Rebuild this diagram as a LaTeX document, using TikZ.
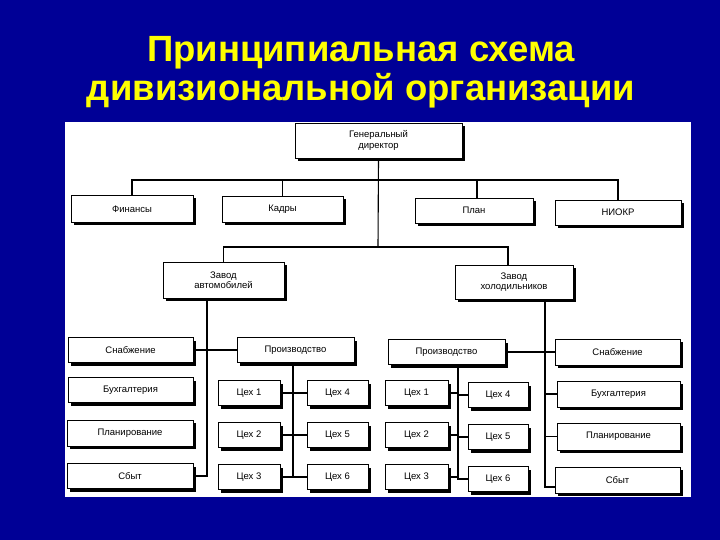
\documentclass[tikz,border=0pt]{standalone}
\usepackage{fontspec}
\setmainfont{Liberation Sans}
\usetikzlibrary{shadows}
\definecolor{slideblue}{RGB}{0,0,150}
\definecolor{titleyellow}{RGB}{255,255,0}
\tikzset{
  unit/.style={draw=black, line width=0.9pt, fill=white, inner sep=1pt,
    font=\fontsize{9.5}{10.5}\selectfont, align=center,
    drop shadow={shadow xshift=3pt, shadow yshift=-3pt, fill=black, opacity=1}},
  link/.style={draw=black, line width=1.1pt},
  titletext/.style={font=\fontsize{36.5}{42}\selectfont\bfseries, anchor=base, text=titleyellow}
}
\begin{document}
\begin{tikzpicture}[x=1pt,y=-1pt]
\useasboundingbox (0,0) rectangle (720,540);
\fill[slideblue] (0,0) rectangle (720,540);
% title
\node[titletext] (t1) at (361,62) {Принципиальная схема};
\node[titletext] (t2) at (361,101) {дивизиональной организации};
% panel
\fill[white] (65,122) rectangle (691,497);

% top level
\node[unit, minimum width=167pt, minimum height=35pt] (gd) at (378.5,140.5) {Генеральный\\директор};
\node[unit, minimum width=122pt, minimum height=27pt] (fin) at (132,209) {Финансы};
\node[unit, minimum width=121pt, minimum height=26pt] (kad) at (282.5,209) {Кадры};
\node[unit, minimum width=118pt, minimum height=25pt] (plan) at (474,210.5) {План};
\node[unit, minimum width=126pt, minimum height=25pt] (niokr) at (618,212.5) {НИОКР};

\coordinate (busA) at (378,180);
\coordinate (busB) at (378,247);
\draw[link] (fin.north) |- (busA) -| (niokr.north);
\draw[link] (kad.north) -- (kad.north |- busA);
\draw[link] ([xshift=3pt]plan.north) -- ([xshift=3pt]plan.north |- busA);
\draw[link] (gd.south) -- (busB);

% factories
\node[unit, minimum width=121pt, minimum height=36pt] (zavA) at (223.5,280) {Завод\\автомобилей};
\node[unit, minimum width=118pt, minimum height=34pt] (zavB) at (514,282) {Завод\\холодильников};
\draw[link] (zavA.north) |- (busB) -| ([xshift=-6pt]zavB.north);

% left division
\node[unit, minimum width=125pt, minimum height=25pt] (snabA) at (130.5,350) {Снабжение};
\node[unit, minimum width=117pt, minimum height=25pt] (prodA) at (295.5,350) {Производство};
\node[unit, minimum width=125pt, minimum height=25pt] (buhA) at (130.5,390) {Бухгалтерия};
\node[unit, minimum width=126pt, minimum height=26pt] (planA) at (130,433) {Планирование};
\node[unit, minimum width=126pt, minimum height=25pt] (sbytA) at (130,476) {Сбыт};
\draw[link] (snabA.east) -- (prodA.west);
\draw[link] ([xshift=-16.5pt]zavA.south) |- (sbytA.east);

\node[unit, minimum width=62pt, minimum height=25pt] (c1A) at (249,393) {Цех 1};
\node[unit, minimum width=62pt, minimum height=25pt] (c2A) at (249,435) {Цех 2};
\node[unit, minimum width=62pt, minimum height=25pt] (c3A) at (249,477) {Цех 3};
\node[unit, minimum width=61pt, minimum height=25pt] (c4A) at (337.5,393) {Цех 4};
\node[unit, minimum width=61pt, minimum height=25pt] (c5A) at (337.5,435) {Цех 5};
\node[unit, minimum width=61pt, minimum height=25pt] (c6A) at (337.5,477) {Цех 6};
\coordinate (vA) at (293,478);
\draw[link] ([xshift=-2.5pt]prodA.south) -- (vA);
\draw[link] (c1A.east) -- (c4A.west);
\draw[link] (c2A.east) -- (c5A.west);
\draw[link] (c3A.east) -- (c6A.west);

% right division
\node[unit, minimum width=117pt, minimum height=25pt] (prodB) at (446.5,352) {Производство};
\node[unit, minimum width=125pt, minimum height=26pt] (snabB) at (617.5,352) {Снабжение};
\node[unit, minimum width=123pt, minimum height=26pt] (buhB) at (618.5,394) {Бухгалтерия};
\node[unit, minimum width=123pt, minimum height=27pt] (planB) at (618.5,436.5) {Планирование};
\node[unit, minimum width=125pt, minimum height=26pt] (sbytB) at (617.5,480) {Сбыт};
\draw[link] (prodB.east) -- (snabB.west);
\coordinate (vB) at (545,487);
\draw[link] ([xshift=31pt]zavB.south) -- (vB) -- (sbytB.west |- vB);
\draw[link] (buhB.west) -- (buhB.west -| vB);
\draw[link] (planB.west) -- (planB.west -| vB);

\node[unit, minimum width=63pt, minimum height=25pt] (c1B) at (416.5,393) {Цех 1};
\node[unit, minimum width=63pt, minimum height=25pt] (c2B) at (416.5,435) {Цех 2};
\node[unit, minimum width=63pt, minimum height=25pt] (c3B) at (416.5,477) {Цех 3};
\node[unit, minimum width=60pt, minimum height=25pt] (c4B) at (498,395) {Цех 4};
\node[unit, minimum width=60pt, minimum height=25pt] (c5B) at (498,437) {Цех 5};
\node[unit, minimum width=60pt, minimum height=25pt] (c6B) at (498,479) {Цех 6};
\coordinate (vBc) at (458,480);
\draw[link] ([xshift=11.5pt]prodB.south) -- (vBc);
\draw[link] (c1B.east) -- (c1B.east -| vBc) |- (c4B.west);
\draw[link] (c2B.east) -- (c2B.east -| vBc) |- (c5B.west);
\draw[link] (c3B.east) -- (c3B.east -| vBc) |- (c6B.west);
\end{tikzpicture}
\end{document}
